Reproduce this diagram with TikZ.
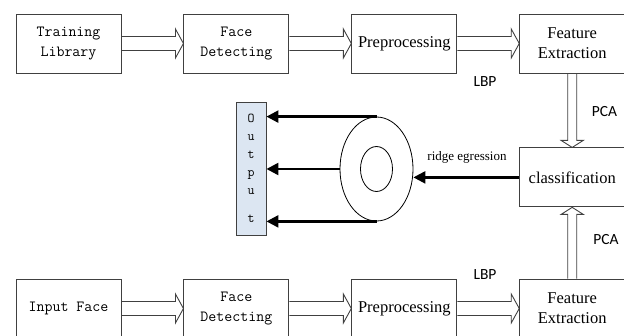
\documentclass[tikz,border=0pt]{standalone}
\usepackage{fontspec}
\setmainfont{Liberation Serif}
\newfontfamily\calibri{Carlito}
\usetikzlibrary{positioning,arrows.meta,calc,shapes.geometric}
\definecolor{outblue}{RGB}{220,230,242}
\tikzset{
  >={Triangle[length=12pt,width=12pt]},
}

\begin{document}
\begin{tikzpicture}[
  x=1pt, y=-1pt,
  node distance=62pt,
  box/.style={draw=black!75, line width=0.9pt, minimum width=105pt, minimum height=59pt, inner sep=2pt, align=center},
  mono/.style={font=\ttfamily\fontsize{15.5}{20}\selectfont},
  serif/.style={font=\fontsize{16.5}{20}\selectfont},
  tag/.style={font=\calibri\fontsize{15.5}{17}\selectfont},
  ring/.style={draw, ellipse, line width=0.8pt, minimum width=73pt, minimum height=104pt, inner sep=0pt},
  outbox/.style={draw=black!75, fill=outblue, line width=0.9pt, minimum width=30pt, minimum height=133pt, align=center, font=\ttfamily\fontsize{13.5}{18}\selectfont},
  hollow/.style={draw=black!75, line width=0.9pt, line join=miter},
  bold arrow/.style={->, line width=2.4pt},
  hollow right/.style={to path={
    ($(\tikztostart.east)+(0pt,7pt)$) -- ($(\tikztotarget.west)+(-8pt,7pt)$)
    -- ($(\tikztotarget.west)+(-8pt,14.5pt)$) -- (\tikztotarget.west)
    -- ($(\tikztotarget.west)+(-8pt,-14.5pt)$) -- ($(\tikztotarget.west)+(-8pt,-7pt)$)
    -- ($(\tikztostart.east)+(0pt,-7pt)$)}},
  hollow down/.style={to path={
    ($(\tikztostart.south)+(-4.5pt,0pt)$) -- ($(\tikztotarget.north)+(-4.5pt,7pt)$)
    -- ($(\tikztotarget.north)+(-11pt,7pt)$) -- (\tikztotarget.north)
    -- ($(\tikztotarget.north)+(11pt,7pt)$) -- ($(\tikztotarget.north)+(4.5pt,7pt)$)
    -- ($(\tikztostart.south)+(4.5pt,0pt)$)}},
  hollow up/.style={to path={
    ($(\tikztostart.north)+(-4.5pt,0pt)$) -- ($(\tikztotarget.south)+(-4.5pt,-7pt)$)
    -- ($(\tikztotarget.south)+(-11pt,-7pt)$) -- (\tikztotarget.south)
    -- ($(\tikztotarget.south)+(11pt,-7pt)$) -- ($(\tikztotarget.south)+(4.5pt,-7pt)$)
    -- ($(\tikztostart.north)+(4.5pt,0pt)$)}}
]
\useasboundingbox (0,0) rectangle (624,336);

% training row
\node[box, mono] (tl) at (68.5,43.5) {Training\\Library};
\node[box, mono, right=of tl] (td) {Face\\Detecting};
\node[box, serif, right=of td] (tp) {Preprocessing};
\node[box, serif, right=of tp] (tf) {Feature\\Extraction};

% input row
\node[box, mono] (bl) at (68.5,308.5) {Input Face};
\node[box, mono, right=of bl] (bd) {Face\\Detecting};
\node[box, serif, right=of bd] (bp) {Preprocessing};
\node[box, serif, right=of bp] (bf) {Feature\\Extraction};

\node[box, serif, below=74pt of tf] (cls) {classification};

\node[ring] (ring) at (376.5,169) {};
\node[ring, minimum width=32pt, minimum height=45pt] (hole) at (ring.center) {};
\node[outbox] (out) at (251,168.5) {O\\u\\t\\p\\u\\[10pt]t};

\node[tag] (lbp1) at (485,82) {LBP};
\node[tag] (lbp2) at (485,275) {LBP};
\node[tag] (pca1) at (604.5,112) {PCA};
\node[tag] (pca2) at (606,240) {PCA};
\node[font=\fontsize{13}{15}\selectfont] (rr) at (467,157) {ridge egression};

\draw[hollow] (tl) to[hollow right] (td);
\draw[hollow] (td) to[hollow right] (tp);
\draw[hollow] (tp) to[hollow right] (tf);
\draw[hollow] (bl) to[hollow right] (bd);
\draw[hollow] (bd) to[hollow right] (bp);
\draw[hollow] (bp) to[hollow right] (bf);
\draw[hollow] (tf) to[hollow down] (cls);
\draw[hollow] (bf) to[hollow up] (cls);

\draw[bold arrow] (cls.west) -- (cls.west -| ring.east);
\draw[bold arrow] (ring.north) -- (ring.north -| out.east);
\draw[bold arrow] (ring.west) -- (ring.west -| out.east);
\draw[bold arrow] (ring.south) -- (ring.south -| out.east);
\end{tikzpicture}
\end{document}
